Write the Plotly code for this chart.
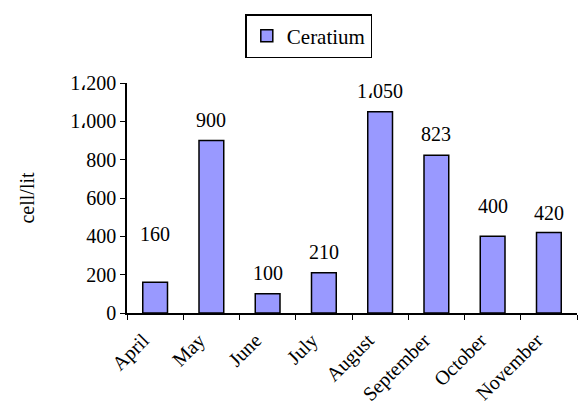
import plotly.graph_objects as go

months = ["April", "May", "June", "July", "August", "September", "October", "November"]
ceratium = [160, 900, 100, 210, 1050, 823, 400, 420]
y_ticks = [0, 200, 400, 600, 800, 1000, 1200]

SEP = "\u060c"


def fmt(v):
    s = f"{v:,}"
    return s.replace(",", SEP)


FONT = "Liberation Serif, Times New Roman, serif"
FS = 20

fig = go.Figure()
fig.add_trace(go.Bar(
    x=months, y=ceratium, name="Ceratium",
    marker=dict(color="#9999FF", line=dict(color="black", width=1.5)),
    width=0.44,
))

# value labels above each bar; a few sit higher to clear neighbours
label_lift = [48, 21, 21, 21, 21, 21, 30, 20]
for m, v, lift in zip(months, ceratium, label_lift):
    fig.add_annotation(x=m, y=v, text=fmt(v), showarrow=False,
                       yshift=lift, font=dict(family=FONT, size=FS, color="black"))

fig.update_layout(
    width=579, height=405,
    margin=dict(l=127, r=2, t=83, b=92),
    paper_bgcolor="white", plot_bgcolor="white",
    font=dict(family=FONT, size=FS, color="black"),
    showlegend=True,
    legend=dict(x=0.404, y=1.30, xanchor="center", yanchor="top",
                bordercolor="black", borderwidth=1.5,
                font=dict(family=FONT, size=FS + 1), itemwidth=30,
                tracegroupgap=0),
    bargap=0.56,
)
fig.update_xaxes(
    showline=True, linecolor="black", linewidth=1.5,
    ticks="outside", tickson="boundaries", ticklen=5, tickcolor="black",
    tickangle=-45, showgrid=False, automargin=False,
    ticklabelshift=-12, ticklabelstandoff=6,
    tickfont=dict(family=FONT, size=FS),
)
fig.update_yaxes(
    range=[0, 1200], showline=True, linecolor="black", linewidth=1.5,
    ticks="outside", ticklen=5, tickcolor="black", showgrid=False,
    tickvals=y_ticks, ticktext=[fmt(v) for v in y_ticks],
    tickfont=dict(family=FONT, size=FS), automargin=False,
    title=dict(text="cell/lit", font=dict(family=FONT, size=FS), standoff=30),
    zeroline=False,
)

fig.write_html("out.html")
